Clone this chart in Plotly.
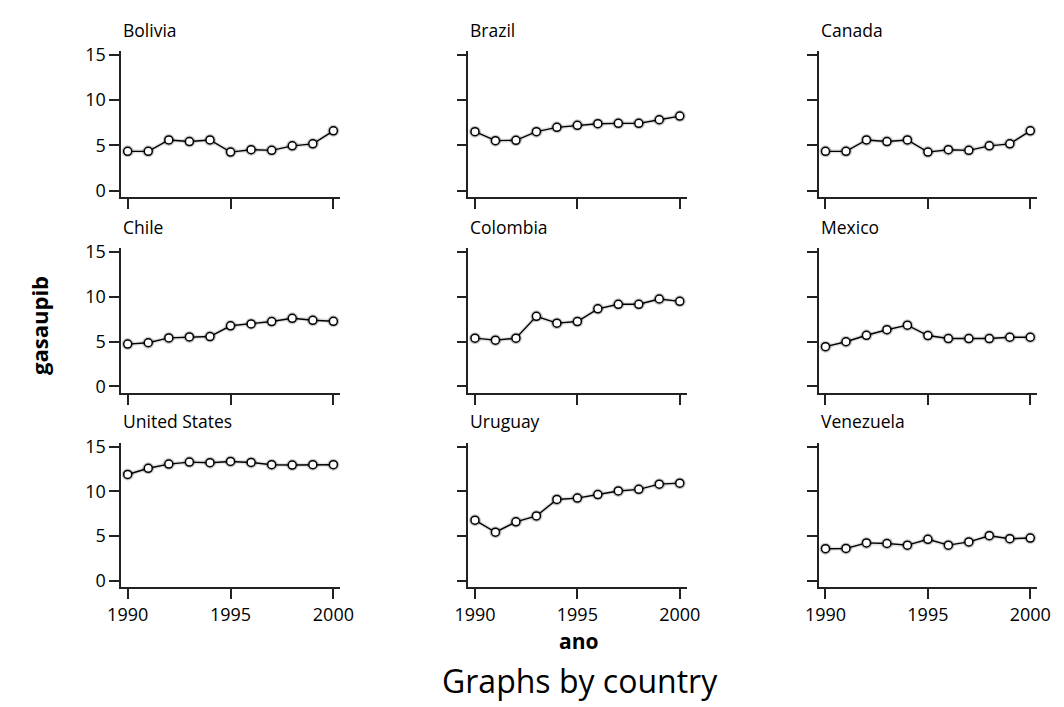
import plotly.graph_objects as go

# Health expenditure (% of GDP) by country, 1990-2000
years = [1990, 1991, 1992, 1993, 1994, 1995, 1996, 1997, 1998, 1999, 2000]
countries = ["Bolivia", "Brazil", "Canada",
             "Chile", "Colombia", "Mexico",
             "United States", "Uruguay", "Venezuela"]

bolivia = [4.34, 4.34, 5.60, 5.42, 5.60, 4.26, 4.52, 4.45, 4.95, 5.17, 6.61]
brazil = [6.51, 5.52, 5.56, 6.51, 6.99, 7.21, 7.39, 7.43, 7.43, 7.83, 8.23]
canada = [4.34, 4.34, 5.60, 5.42, 5.60, 4.26, 4.52, 4.45, 4.95, 5.17, 6.61]
chile = [4.72, 4.87, 5.41, 5.52, 5.56, 6.76, 6.97, 7.23, 7.59, 7.37, 7.26]
colombia = [5.38, 5.16, 5.38, 7.81, 7.05, 7.23, 8.65, 9.15, 9.15, 9.74, 9.48]
mexico = [4.43, 4.98, 5.70, 6.32, 6.83, 5.67, 5.34, 5.34, 5.34, 5.48, 5.48]
united_states = [11.88, 12.57, 13.04, 13.26, 13.19, 13.33, 13.22, 12.97, 12.93, 12.97, 12.97]
uruguay = [6.78, 5.43, 6.59, 7.25, 9.09, 9.24, 9.64, 10.04, 10.22, 10.80, 10.91]
venezuela = [3.59, 3.62, 4.24, 4.17, 3.99, 4.64, 3.99, 4.35, 5.04, 4.71, 4.78]

series = [bolivia, brazil, canada, chile, colombia, mexico,
          united_states, uruguay, venezuela]

x_ticks = [1990, 1995, 2000]
y_ticks = [0, 5, 10, 15]

W, H = 1064, 707


def px(x):
    return x / W


def py(y):
    return 1 - y / H


FONT = "Open Sans"
AX = "#222222"

# panel boxes in pixels: (left, right) and (top, bottom)
col_px = [(110, 335), (466.7, 690.7), (826.7, 1050.7)]
row_px = [(43, 192), (244, 391.7), (442.7, 590)]

fig = go.Figure()
layout = {}
annotations = []

for i, (name, vals) in enumerate(zip(countries, series)):
    r, c = divmod(i, 3)
    n = i + 1
    xa = "x" if n == 1 else f"x{n}"
    ya = "y" if n == 1 else f"y{n}"
    xl, xr = col_px[c]
    yt, yb = row_px[r]

    # soft shadow under the line and markers
    fig.add_trace(go.Scatter(
        x=years, y=vals, xaxis=xa, yaxis=ya, mode="lines+markers",
        line=dict(color="rgba(0,0,0,0.12)", width=4),
        marker=dict(size=12, color="rgba(0,0,0,0.22)", line=dict(width=0)),
        hoverinfo="skip", showlegend=False))
    fig.add_trace(go.Scatter(
        x=years, y=vals, xaxis=xa, yaxis=ya, mode="lines+markers",
        line=dict(color="black", width=1.4),
        marker=dict(size=8, color="white", line=dict(color="black", width=1.5)),
        name=name, showlegend=False))

    layout["xaxis" if n == 1 else f"xaxis{n}"] = dict(
        domain=[px(xl), px(xr)], anchor=ya, range=[1989.68, 2000.33],
        tickvals=x_ticks, showticklabels=(r == 2),
        ticks="outside", ticklen=10, tickwidth=1.5, tickcolor=AX,
        showline=True, linecolor=AX, linewidth=1.5,
        showgrid=False, zeroline=False,
        tickfont=dict(family=FONT, size=18, color="black"))
    layout["yaxis" if n == 1 else f"yaxis{n}"] = dict(
        domain=[py(yb), py(yt)], anchor=xa, range=[-0.72, 15.4],
        tickvals=y_ticks, showticklabels=(c == 0),
        ticks="outside", ticklen=10, tickwidth=1.5, tickcolor=AX,
        showline=True, linecolor=AX, linewidth=1.5,
        showgrid=False, zeroline=False,
        tickfont=dict(family=FONT, size=18, color="black"))

    annotations.append(dict(
        text=name, xref="paper", yref="paper", x=px(xl), y=py(yt - 22),
        xanchor="left", yanchor="middle", showarrow=False,
        font=dict(family=FONT, size=17.5, color="black")))

annotations += [
    dict(text="<b>gasaupib</b>", xref="paper", yref="paper",
         x=px(25), y=py(323), textangle=-90, showarrow=False,
         xanchor="center", yanchor="middle",
         font=dict(family=FONT, size=22, color="black")),
    dict(text="<b>ano</b>", xref="paper", yref="paper",
         x=px(580), y=py(645), showarrow=False,
         xanchor="center", yanchor="middle",
         font=dict(family=FONT, size=21, color="black")),
    dict(text="Graphs by country", xref="paper", yref="paper",
         x=px(581), y=py(685), showarrow=False,
         xanchor="center", yanchor="middle",
         font=dict(family=FONT, size=32, color="black")),
]

fig.update_layout(
    width=W, height=H,
    margin=dict(l=0, r=0, t=0, b=0),
    paper_bgcolor="white", plot_bgcolor="white",
    annotations=annotations,
    **layout)

fig.write_html("out.html")
